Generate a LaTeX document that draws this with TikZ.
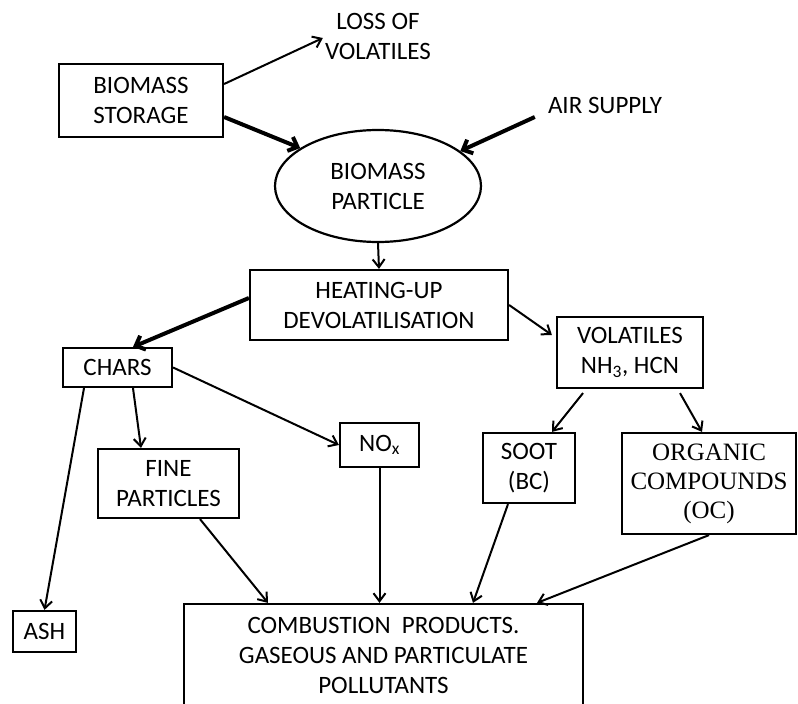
\documentclass[tikz,border=0pt]{standalone}
\usepackage{fontspec}
\setmainfont{Carlito}
\newfontfamily\timesfont{Liberation Serif}
\usetikzlibrary{positioning,calc,shapes.geometric,arrows.meta}
\tikzset{
	x=1pt, y=-1pt, % one unit is one pixel of the page, counted downwards
	every node/.style={font=\fontsize{25}{30}\selectfont, align=center, inner sep=0pt},
	box/.style={rectangle, draw, line width=2.2pt}, % the square boxes
	blob/.style={ellipse, draw, line width=2.2pt}
}

\begin{document}
\begin{tikzpicture}[
		thinarrow/.style={line width=2pt, -{Straight Barb[length=8pt,width=12pt]}},
		thickarrow/.style={line width=4pt, -{Straight Barb[length=8pt,width=15pt]}}
	]
	\useasboundingbox (0,0) rectangle (798,704);

	\node[box, minimum width=164pt, minimum height=73pt] (storage) at (141,100.5) {BIOMASS\\STORAGE};
	\node (loss) at (378,36) {LOSS OF\\VOLATILES};
	\node (air) at (605,105) {AIR SUPPLY};
	\node[blob, minimum width=206pt, minimum height=112pt] (particle) at (378,186) {BIOMASS\\PARTICLE};
	\node[box, minimum width=258pt, minimum height=70pt] (heating) at (379,305) {HEATING-UP\\DEVOLATILISATION};
	\node[box, minimum width=109pt, minimum height=39pt] (chars) at (117.5,367.5) {CHARS};
	\node[box, minimum width=146pt, minimum height=71pt] (volatiles) at (630,352.5) {VOLATILES\\NH\textsubscript{3}, HCN};
	\node[box, minimum width=141pt, minimum height=69pt] (fine) at (168.5,483.5) {FINE\\PARTICLES};
	\node[box, minimum width=79pt, minimum height=44pt] (nox) at (379.5,445) {NO\textsubscript{x}};
	\node[box, minimum width=92pt, minimum height=70pt] (soot) at (529,468) {SOOT\\(BC)};
	\node[box, minimum width=174pt, minimum height=101pt, font=\timesfont\fontsize{25}{29}\selectfont] (organic) at (709,483.5) {ORGANIC\\COMPOUNDS\\(OC)};
	\node[box, minimum width=63pt, minimum height=41pt] (ash) at (44.5,631.5) {ASH};
	\node[box, minimum width=399pt, minimum height=102pt] (products) at (383.5,655) {COMBUSTION\ \ PRODUCTS.\\GASEOUS AND PARTICULATE\\POLLUTANTS};

	\path[thickarrow]
		($(storage.east)+(0,16.5)$) edge (particle.154)
		($(air.west)+(-13,12)$) edge (particle.23)
		($(heating.west)+(0,-7)$) edge ($(chars.north)+(15.5,0)$);
	\path[thinarrow]
		($(storage.east)+(0,-16.5)$) edge ($(loss.west)+(-2,2)$)
		(particle.south) edge (heating.north)
		(heating.east) edge ($(volatiles.west)+(-4,-17.5)$)
		($(chars.south)+(-33.5,0)$) edge (ash.north)
		($(chars.south)+(15.5,0)$) edge ($(fine.north)+(-27.5,0)$)
		(chars.east) edge (nox.west)
		($(volatiles.south)+(-47,4)$) edge ($(soot.north)+(23,0)$)
		($(volatiles.south)+(50,4)$) edge ($(organic.north)+(-7,0)$)
		($(fine.south)+(31.5,0)$) edge ($(products.north)+(-115.5,0)$)
		(nox.south) edge (nox.south |- products.north)
		($(soot.south)+(-21,0)$) edge ($(products.north)+(89.5,0)$)
		(organic.south) edge ($(products.north)+(153.5,0)$);
\end{tikzpicture}
\end{document}
